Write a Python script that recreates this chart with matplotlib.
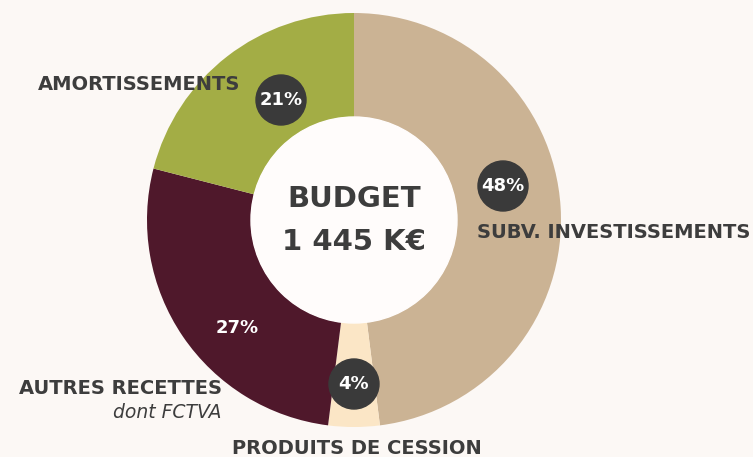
import matplotlib
matplotlib.use("Agg")
import matplotlib.pyplot as plt
from matplotlib.patches import Circle

# data
labels = ["SUBV. INVESTISSEMENTS", "PRODUITS DE CESSION", "AUTRES RECETTES", "AMORTISSEMENTS"]
shares = [48, 4, 27, 21]
colors = ["#cbb394", "#fbe6c6", "#4f182b", "#a3ad45"]
total_label = "1 445 K€"

W, H = 753, 457
bg = "#fcf8f5"
dark = "#3d3d3d"

fig = plt.figure(figsize=(W / 100, H / 100), dpi=100, facecolor=bg)
ax = fig.add_axes([0, 0, 1, 1])
ax.set_facecolor(bg)

cx, cy = 354, H - 220
r_out, r_in = 207, 103
ax.pie(shares, colors=colors, center=(cx, cy), radius=r_out, startangle=90,
       counterclock=False, wedgeprops=dict(width=r_out - r_in, linewidth=0))
ax.add_patch(Circle((cx, cy), r_in, color="#fffcfb", zorder=3))

ax.set_xlim(0, W)
ax.set_ylim(0, H)
ax.set_aspect("equal")
ax.axis("off")

font = "DejaVu Sans"
ax.text(cx, H - 199, "BUDGET", ha="center", va="center", fontsize=21,
        fontweight="bold", color=dark, family=font, zorder=4)
ax.text(cx, H - 242, total_label, ha="center", va="center", fontsize=21,
        fontweight="bold", color=dark, family=font, zorder=4)

# percent badges (pixel positions from the picture)
badges = {0: (503, 186), 1: (354, 384), 3: (281, 100)}
for i, (bx, by) in badges.items():
    ax.add_patch(Circle((bx, H - by), 25, color="#3a3a3a", zorder=4))
    ax.text(bx, H - by, f"{shares[i]}%", ha="center", va="center", fontsize=13,
            fontweight="bold", color="white", family=font, zorder=5)
ax.text(237, H - 328, f"{shares[2]}%", ha="center", va="center", fontsize=13,
        fontweight="bold", color="white", family=font, zorder=5)

# category labels
fs = 14
ax.text(477, H - 233, labels[0], ha="left", va="center", fontsize=fs,
        fontweight="bold", color=dark, family=font)
ax.text(357, H - 448, labels[1], ha="center", va="center", fontsize=fs,
        fontweight="bold", color=dark, family=font)
ax.text(222, H - 388, labels[2], ha="right", va="center", fontsize=fs,
        fontweight="bold", color=dark, family=font)
ax.text(222, H - 413, "dont FCTVA", ha="right", va="center", fontsize=13.5,
        style="italic", color=dark, family=font)
ax.text(240, H - 84, labels[3], ha="right", va="center", fontsize=fs,
        fontweight="bold", color=dark, family=font, zorder=5)

fig.savefig("out.png", dpi=100, facecolor=bg)
